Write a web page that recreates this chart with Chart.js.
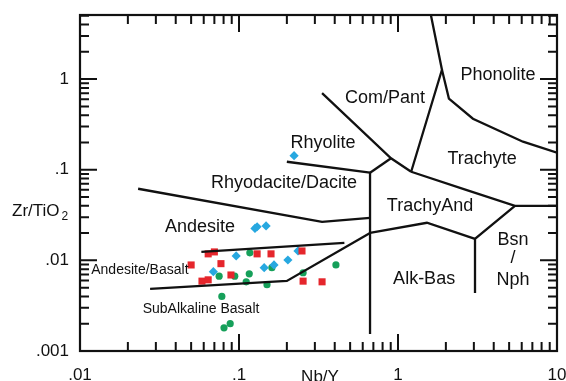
<!DOCTYPE html>
<html>
<head>
<meta charset="utf-8">
<script src="https://cdn.jsdelivr.net/npm/chart.js@4.4.1/dist/chart.umd.min.js"></script>
<style>
html, body { margin: 0; padding: 0; background: #fff; }
#wrap { width: 566px; height: 381px; }
</style>
</head>
<body>
<div id="wrap"><canvas id="wf" width="566" height="381"></canvas></div>
<script>
// samples: Nb/Y (x) vs Zr/TiO2 (y)
var redNbY   = [0.050, 0.064, 0.070, 0.130, 0.159, 0.249, 0.077, 0.089, 0.0585, 0.064, 0.253, 0.333];
var redZrTi  = [0.0089, 0.0118, 0.0124, 0.0118, 0.0118, 0.0127, 0.0092, 0.0069, 0.0059, 0.0061, 0.0059, 0.0058];

var blueNbY  = [0.130, 0.148, 0.126, 0.222, 0.096, 0.069, 0.144, 0.166, 0.203, 0.235];
var blueZrTi = [0.0235, 0.0240, 0.0225, 0.143, 0.0112, 0.0075, 0.0083, 0.0089, 0.0101, 0.0127];

var greenNbY  = [0.117, 0.075, 0.094, 0.116, 0.111, 0.150, 0.161, 0.253, 0.407, 0.078, 0.088, 0.0805];
var greenZrTi = [0.0121, 0.0067, 0.0067, 0.0071, 0.0058, 0.0054, 0.0083, 0.0073, 0.0089, 0.0040, 0.0020, 0.0018];

// field boundaries of the diagram, [Nb/Y, Zr/TiO2]
var boundaries = [
    [[1.61, 5.1], [1.89, 1.27], [1.21, 0.095]],
    [[1.89, 1.27], [2.09, 0.609], [2.96, 0.366], [6.11, 0.204], [10, 0.154]],
    [[0.333, 0.70], [0.904, 0.134], [1.21, 0.095]],
    [[0.904, 0.134], [0.667, 0.0927]],
    [[0.200, 0.1225], [0.667, 0.0927]],
    [[0.667, 0.0927], [0.667, 0.00154]],
    [[1.21, 0.095], [2.68, 0.0601], [5.44, 0.040], [10, 0.040]],
    [[5.44, 0.040], [3.05, 0.0173], [3.05, 0.00437]],
    [[3.05, 0.0173], [1.52, 0.026], [0.667, 0.0201]],
    [[0.0232, 0.0617], [0.333, 0.0266], [0.667, 0.0295]],
    [[0.058, 0.0124], [0.46, 0.0156]],
    [[0.0276, 0.00484], [0.200, 0.00593], [0.667, 0.0201]]
];

var fieldNames = ['Phonolite', 'Com/Pant', 'Rhyolite', 'Trachyte', 'Rhyodacite/Dacite', 'TrachyAnd',
    'Andesite', 'Andesite/Basalt', 'SubAlkaline Basalt', 'Alk-Bas', 'Bsn', '/', 'Nph'];
var fieldAt = [[4.26, 1.107], [0.828, 0.617], [0.338, 0.197], [3.38, 0.131], [0.192, 0.0713], [1.59, 0.0397],
    [0.0569, 0.0233], [0.0238, 0.00782], [0.0577, 0.0029], [1.46, 0.00622], [5.29, 0.01675], [5.29, 0.0106], [5.29, 0.00607]];
var fieldSmall = ['Andesite/Basalt', 'SubAlkaline Basalt'];

var xTickVals = [0.01, 0.1, 1, 10];
var xTickLabels = ['.01', '.1', '1', '10'];
var yTickVals = [0.001, 0.01, 0.1, 1];
var yTickLabels = ['.001', '.01', '.1', '1'];

var FONT = '"Liberation Sans", Arial, sans-serif';

function pairs(xs, ys) {
    var out = [];
    for (var i = 0; i < xs.length; i++) out.push({x: xs[i], y: ys[i]});
    return out;
}

var datasets = [];
for (var b = 0; b < boundaries.length; b++) {
    datasets.push({
        type: 'line',
        data: boundaries[b].map(function (p) { return {x: p[0], y: p[1]}; }),
        borderColor: '#111',
        borderWidth: 2.3,
        pointRadius: 0,
        fill: false,
        tension: 0
    });
}
datasets.push({ data: pairs(redNbY, redZrTi), pointStyle: 'rect', pointRadius: 5,
    backgroundColor: '#e5262c', borderWidth: 0 });
datasets.push({ data: pairs(blueNbY, blueZrTi), pointStyle: 'rectRot', pointRadius: 4.6,
    backgroundColor: '#27a8e0', borderWidth: 0 });
datasets.push({ data: pairs(greenNbY, greenZrTi), pointStyle: 'circle', pointRadius: 3.6,
    backgroundColor: '#16a05a', borderWidth: 0 });

function drawTicks(ctx, scale, lo, hi, horizontal, area) {
    for (var d = lo; d < hi * 1.0001; d *= 10) {
        for (var m = 1; m <= 9; m++) {
            var v = d * m;
            if (v > hi * 1.0001) break;
            var len = m === 1 ? 17 : 9;
            var p = scale.getPixelForValue(v);
            ctx.beginPath();
            if (horizontal) {
                ctx.moveTo(p, area.bottom); ctx.lineTo(p, area.bottom - len);
                ctx.moveTo(p, area.top); ctx.lineTo(p, area.top + len);
            } else {
                ctx.moveTo(area.left, p); ctx.lineTo(area.left + len, p);
                ctx.moveTo(area.right, p); ctx.lineTo(area.right - len, p);
            }
            ctx.stroke();
        }
    }
}

var framePlugin = {
    id: 'wfFrame',
    afterDatasetsDraw: function (chart) {
        var ctx = chart.ctx, xs = chart.scales.x, ys = chart.scales.y, a = chart.chartArea;
        ctx.save();
        ctx.strokeStyle = '#111';
        ctx.lineWidth = 2.2;
        ctx.strokeRect(a.left, a.top, a.right - a.left, a.bottom - a.top);
        ctx.lineWidth = 2;
        drawTicks(ctx, xs, 0.01, 10, true, a);
        drawTicks(ctx, ys, 0.001, ys.max, false, a);

        ctx.fillStyle = '#111';
        ctx.font = '17px ' + FONT;
        ctx.textBaseline = 'middle';
        ctx.textAlign = 'right';
        for (var i = 0; i < yTickVals.length; i++) {
            ctx.fillText(yTickLabels[i], a.left - 11, ys.getPixelForValue(yTickVals[i]));
        }
        ctx.textAlign = 'center';
        ctx.textBaseline = 'alphabetic';
        for (var j = 0; j < xTickVals.length; j++) {
            ctx.fillText(xTickLabels[j], xs.getPixelForValue(xTickVals[j]), a.bottom + 29);
        }
        ctx.fillText('Nb/Y', 320, a.bottom + 31);

        // y title with subscript
        ctx.textAlign = 'left';
        ctx.fillText('Zr/TiO', 12, 216);
        var w = ctx.measureText('Zr/TiO').width;
        ctx.font = '12px ' + FONT;
        ctx.fillText('2', 12 + w + 2, 220);

        // field names
        ctx.textAlign = 'center';
        ctx.textBaseline = 'middle';
        for (var k = 0; k < fieldNames.length; k++) {
            var small = fieldSmall.indexOf(fieldNames[k]) >= 0;
            ctx.font = (small ? '14px ' : '18px ') + FONT;
            ctx.fillText(fieldNames[k], xs.getPixelForValue(fieldAt[k][0]), ys.getPixelForValue(fieldAt[k][1]));
        }
        ctx.restore();
    }
};

var chart = new Chart(document.getElementById('wf'), {
    type: 'scatter',
    data: { datasets: datasets },
    options: {
        responsive: false,
        animation: false,
        layout: { padding: { left: 80, top: 15, right: 9, bottom: 30 } },
        plugins: { legend: { display: false }, tooltip: { enabled: false } },
        scales: {
            x: { type: 'logarithmic', min: 0.01, max: 10, display: false },
            y: { type: 'logarithmic', min: 0.001, max: 5.1, display: false }
        }
    },
    plugins: [framePlugin]
});
</script>
</body>
</html>
